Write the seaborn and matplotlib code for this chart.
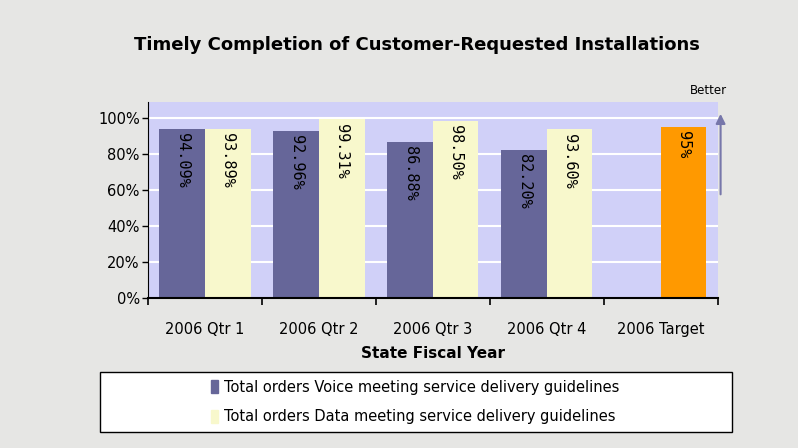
import pandas as pd
import matplotlib
matplotlib.use("Agg")
import matplotlib.pyplot as plt
import seaborn as sns

# Données
periods = ["2006 Qtr 1", "2006 Qtr 2", "2006 Qtr 3", "2006 Qtr 4", "2006 Target"]
voice = [0.9409, 0.9296, 0.8688, 0.8220]
data = [0.9389, 0.9931, 0.9850, 0.9360]
target = 0.95
voice_label = "Total orders Voice meeting service delivery guidelines"
data_label = "Total orders Data meeting service delivery guidelines"

rows = []
for p, v in zip(periods[:4], voice):
    rows.append({"period": p, "serie": voice_label, "value": v})
for p, d in zip(periods[:4], data):
    rows.append({"period": p, "serie": data_label, "value": d})
rows.append({"period": periods[4], "serie": data_label, "value": target})
df = pd.DataFrame(rows)

sns.set_style("white")
plt.rcParams["font.family"] = ["DejaVu Sans"]
plt.rcParams["text.color"] = "black"
plt.rcParams["xtick.color"] = "black"
plt.rcParams["ytick.color"] = "black"
plt.rcParams["axes.labelcolor"] = "black"

fig = plt.figure(figsize=(7.98, 4.48), dpi=100)
fig.patch.set_facecolor("#e6e6e4")
ax = fig.add_axes([0.1855, 0.335, 0.714, 0.438])
ax.set_facecolor("#d0d0f8")

palette = {voice_label: "#666699", data_label: "#f8f8cc"}
sns.barplot(data=df, x="period", y="value", hue="serie", order=periods,
            hue_order=[voice_label, data_label], palette=palette,
            width=0.8, saturation=1, linewidth=0, ax=ax, legend=False)

# barre cible en orange
for bar in ax.patches:
    x = bar.get_x() + bar.get_width() / 2
    if x > 3.5 and bar.get_height() > 0:
        bar.set_facecolor("#ff9900")

# étiquettes verticales
for bar in ax.patches:
    h = bar.get_height()
    if h > 0:
        txt = "95%" if bar.get_x() > 3.5 else f"{h*100:.2f}%"
        ax.text(bar.get_x() + bar.get_width() / 2, h - 0.025, txt, rotation=270,
                ha="center", va="top", fontsize=11, family="DejaVu Sans Mono",
                color="black")

ax.set_ylim(0, 1.09)
ax.set_xlim(-0.5, 4.5)
ax.set_yticks([0, 0.2, 0.4, 0.6, 0.8, 1.0])
ax.set_yticklabels(["0%", "20%", "40%", "60%", "80%", "100%"], fontsize=10.5)
ax.yaxis.grid(True, color="white", linewidth=1.5)
ax.set_axisbelow(True)
ax.tick_params(axis="y", length=4, width=1, direction="out", left=True, pad=2)
ax.set_xticks(range(5))
ax.set_xticklabels(periods, fontsize=10.5)
ax.set_xticks([-0.5, 0.5, 1.5, 2.5, 3.5, 4.5], minor=True)
ax.tick_params(axis="x", which="major", length=0, pad=17)
ax.tick_params(axis="x", which="minor", length=5, width=1.2, direction="out", bottom=True)
for s in ["top", "right"]:
    ax.spines[s].set_visible(False)
ax.spines["left"].set_color("black")
ax.spines["bottom"].set_color("black")
ax.spines["bottom"].set_linewidth(1.5)
ax.set_xlabel("State Fiscal Year", fontsize=11, fontweight="bold", labelpad=7)
ax.set_ylabel("")

fig.text(0.522, 0.90, "Timely Completion of Customer-Requested Installations",
         ha="center", va="center", fontsize=13, fontweight="bold")

# flèche "Better"
ax.annotate("", xy=(0.903, 0.752), xytext=(0.903, 0.56), xycoords="figure fraction",
            arrowprops=dict(arrowstyle="-|>", color="#7777aa", lw=1.5, mutation_scale=14))
fig.text(0.888, 0.797, "Better", fontsize=8.5, ha="center", va="center")

# cadre de la légende
box = plt.Rectangle((0.125, 0.036), 0.792, 0.134, transform=fig.transFigure,
                    facecolor="white", edgecolor="black", linewidth=1)
fig.patches.append(box)

handles = [plt.Rectangle((0, 0), 1, 1, color="#666699"),
           plt.Rectangle((0, 0), 1, 1, color="#f8f8cc")]
leg = fig.legend(handles, [voice_label, data_label], loc="center",
                 bbox_to_anchor=(0.52, 0.103), fontsize=10.5, frameon=False,
                 handlelength=0.5, handleheight=1.0, handletextpad=0.4,
                 labelspacing=1.0)

fig.savefig("out.png", dpi=100, facecolor=fig.get_facecolor())
